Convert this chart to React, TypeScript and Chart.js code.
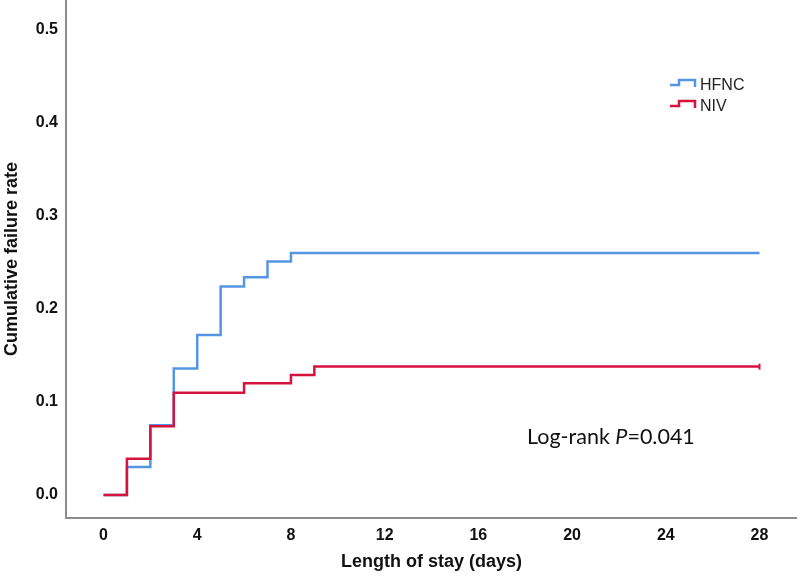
import React, { useEffect, useRef } from "react";
import { Chart, registerables } from "chart.js";

Chart.register(...registerables);

// Kaplan–Meier step data (day, cumulative failure rate after the step)
const hfncDays = [0, 1, 2, 3, 4, 5, 6, 7, 8, 28];
const hfncRates = [0, 0.03, 0.075, 0.136, 0.172, 0.224, 0.234, 0.251, 0.26, 0.26];

const nivDays = [0, 1, 2, 3, 6, 8, 9, 28];
const nivRates = [0, 0.039, 0.074, 0.11, 0.12, 0.129, 0.138, 0.138];

const xTicks = [0, 4, 8, 12, 16, 20, 24, 28];
const yTicks = [0, 0.1, 0.2, 0.3, 0.4, 0.5];

const seriesNames = ["HFNC", "NIV"];
const xTitle = "Length of stay (days)";
const yTitle = "Cumulative failure rate";
const annotationText = { prefix: "Log-rank ", italic: "P", suffix: "=0.041" };

const BLUE = "rgb(84,150,228)";
const RED = "rgb(214,18,62)";
const AXIS = "rgb(140,140,140)";

const overlayPlugin = {
  id: "overlay",
  afterDraw(chart: any) {
    const ctx = chart.ctx;
    const area = chart.chartArea;
    ctx.save();
    // legend
    const lx = area.left + 604;
    const items = [
      { name: seriesNames[0], color: BLUE, cy: 86 },
      { name: seriesNames[1], color: RED, cy: 107 },
    ];
    items.forEach((it) => {
      const top = it.cy - 6;
      ctx.strokeStyle = it.color;
      ctx.lineWidth = 2.5;
      ctx.beginPath();
      ctx.moveTo(lx, top + 5);
      ctx.lineTo(lx + 9, top + 5);
      ctx.lineTo(lx + 9, top);
      ctx.lineTo(lx + 25, top);
      ctx.lineTo(lx + 25, top + 7);
      ctx.stroke();
      ctx.fillStyle = "#222";
      ctx.font = "16px 'Liberation Sans', Arial, sans-serif";
      ctx.textBaseline = "middle";
      ctx.textAlign = "left";
      ctx.fillText(it.name, lx + 30, it.cy);
    });
    // annotation
    let x = area.left + 461;
    const y = 437;
    const f = "21.5px Lato, 'Open Sans', sans-serif";
    ctx.fillStyle = "#111";
    ctx.textBaseline = "middle";
    ctx.font = f;
    ctx.fillText(annotationText.prefix, x, y);
    x += ctx.measureText(annotationText.prefix).width;
    ctx.font = "italic " + f;
    ctx.fillText(annotationText.italic, x, y);
    x += ctx.measureText(annotationText.italic).width;
    ctx.font = f;
    ctx.fillText(annotationText.suffix, x, y);
    ctx.restore();
  },
};

const zeroPad = (s: any) => {
  s.paddingTop = 0;
  s.paddingBottom = 0;
  s.paddingLeft = 0;
  s.paddingRight = 0;
};

export default function App() {
  const ref = useRef<HTMLCanvasElement | null>(null);

  useEffect(() => {
    if (!ref.current) return;
    const hfnc = hfncDays.map((d, i) => ({ x: d, y: hfncRates[i] }));
    const niv = nivDays.map((d, i) => ({ x: d, y: nivRates[i] }));
    const tickFont = { family: "'Liberation Sans', Arial, sans-serif", size: 16, weight: "bold" as const };
    const titleFont = { family: "'Liberation Sans', Arial, sans-serif", size: 18, weight: "bold" as const };

    const chart = new Chart(ref.current, {
      type: "line",
      data: {
        datasets: [
          {
            label: seriesNames[0],
            data: hfnc,
            stepped: true,
            borderColor: BLUE,
            borderWidth: 2.5,
            pointRadius: 0,
            fill: false,
            order: 1,
          },
          {
            label: seriesNames[1],
            data: niv,
            stepped: true,
            borderColor: RED,
            borderWidth: 2.5,
            pointRadius: niv.map((_, i) => (i === niv.length - 1 ? 3 : 0)),
            pointStyle: "line",
            rotation: 90,
            pointBorderColor: RED,
            pointBorderWidth: 2,
            fill: false,
            order: 0,
          },
        ],
      },
      options: {
        animation: false,
        responsive: true,
        maintainAspectRatio: false,
        layout: { padding: 0, autoPadding: false },
        plugins: { legend: { display: false }, tooltip: { enabled: false } },
        scales: {
          x: {
            type: "linear",
            min: -1.6,
            max: 29.6,
            afterBuildTicks: (s: any) => {
              s.ticks = xTicks.map((v) => ({ value: v }));
            },
            afterFit: (s: any) => {
              s.height = 58;
              zeroPad(s);
            },
            grid: { display: false, drawTicks: false },
            border: { display: true, color: AXIS, width: 2 },
            ticks: { color: "#111", font: tickFont, padding: 8, maxRotation: 0, autoSkip: false },
            title: { display: true, text: xTitle, color: "#111", font: titleFont, padding: { top: 0, bottom: 3 } },
          },
          y: {
            type: "linear",
            min: -0.0247,
            max: 0.532,
            afterBuildTicks: (s: any) => {
              s.ticks = yTicks.map((v) => ({ value: v }));
            },
            afterFit: (s: any) => {
              s.width = 66;
              zeroPad(s);
            },
            grid: { display: false, drawTicks: false },
            border: { display: true, color: AXIS, width: 2 },
            ticks: {
              color: "#111",
              font: tickFont,
              padding: 8,
              callback: (v: any) => Number(v).toFixed(1),
            },
            title: { display: true, text: yTitle, color: "#111", font: titleFont, padding: { top: 1, bottom: 0 } },
          },
        },
      },
      plugins: [overlayPlugin],
    });
    return () => chart.destroy();
  }, []);

  return (
    <div style={{ position: "absolute", left: 0, top: 0, width: 797, height: 576, background: "#fff" }}>
      <canvas ref={ref} />
    </div>
  );
}
